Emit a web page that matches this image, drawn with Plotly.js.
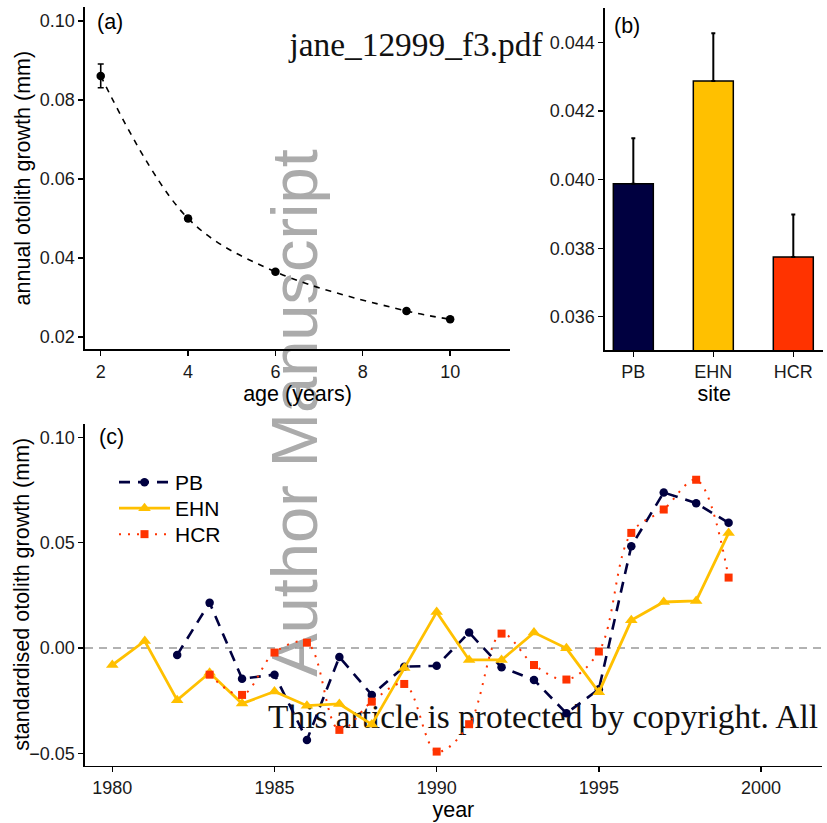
<!DOCTYPE html>
<html>
<head>
<meta charset="utf-8">
<script src="https://cdn.plot.ly/plotly-3.0.1.min.js"></script>
<style>
  body { margin: 0; background: #ffffff; }
  #wrap { position: relative; width: 827px; height: 823px; overflow: hidden; }
  .wm { position: absolute; white-space: nowrap; }
  .serif { font-family: "Liberation Serif", "DejaVu Serif", serif; font-size: 33.4px; line-height: 33px; color: #111; }
  #plot { position: absolute; left: 0; top: 0; width: 827px; height: 823px; }
</style>
</head>
<body>
<div id="wrap">
  <div class="wm serif" style="left:416px; top:28.4px; transform:translateX(-50%);">jane_12999_f3.pdf</div>
  <div class="wm" style="left:293.5px; top:413px; transform:translate(-50%,-50%) rotate(-90deg); font-family:'Liberation Sans', Arial, sans-serif; font-size:65px; line-height:65px; color:#ababab;">Author Manuscript</div>
  <div class="wm serif" style="left:543px; top:700.4px; transform:translateX(-50%);">This article is protected by copyright. All</div>
  <div id="plot"></div>
</div>
<script>
// ---- Panel (a): annual otolith growth by age ----
const ages = [2, 4, 6, 9, 10];
const annualGrowth = [0.0861, 0.0500, 0.0365, 0.0266, 0.0245];
const annualSE = [0.0030, 0.0006, 0.0005, 0.0005, 0.0005];
const ageTicks = [2, 4, 6, 8, 10];
const annualTicks = [0.02, 0.04, 0.06, 0.08, 0.10];

// ---- Panel (b): mean growth by site ----
const sites = ["PB", "EHN", "HCR"];
const siteMean = [0.03988, 0.04288, 0.03774];
const siteSE = [0.00133, 0.00139, 0.00124];
const siteTicks = [0.036, 0.038, 0.040, 0.042, 0.044];

// ---- Panel (c): standardised growth by year ----
const yearsPB = [1982,1983,1984,1985,1986,1987,1988,1989,1990,1991,1992,1993,1994,1995,1996,1997,1998,1999];
const growthPB = [-0.0033, 0.0215, -0.0146, -0.0127, -0.0437, -0.0043, -0.0223, -0.0089, -0.0085, 0.0073, -0.0092, -0.0152, -0.0310, -0.0196, 0.0483, 0.0738, 0.0687, 0.0594];
const yearsEHN = [1980,1981,1982,1983,1984,1985,1986,1987,1988,1989,1990,1991,1992,1993,1994,1995,1996,1997,1998,1999];
const growthEHN = [-0.0081, 0.0033, -0.0248, -0.0118, -0.0264, -0.0207, -0.0274, -0.0266, -0.0363, -0.0095, 0.0170, -0.0057, -0.0057, 0.0073, -0.0002, -0.0210, 0.0131, 0.0218, 0.0223, 0.0545];
const yearsHCR = [1983,1984,1985,1986,1987,1988,1989,1990,1991,1992,1993,1994,1995,1996,1997,1998,1999];
const growthHCR = [-0.0127, -0.0223, -0.0022, 0.0025, -0.0389, -0.0255, -0.0171, -0.0492, -0.0362, 0.0068, -0.0081, -0.0150, -0.0017, 0.0546, 0.0657, 0.0798, 0.0334];
const yearTicks = [1980, 1985, 1990, 1995, 2000];
const stdTicks = [-0.05, 0.00, 0.05, 0.10];

const siteColors = ["#000040", "#FFC000", "#FF3300"];

const W = 827, H = 823;
const px = v => v / W;
const py = v => 1 - v / H;

const fontFam = "Liberation Sans, Arial, sans-serif";
const tickFont = { family: fontFam, size: 18, color: "#1a1a1a" };
const titleFont = { family: fontFam, size: 21.5, color: "#000" };

function axisBase(extra) {
  return Object.assign({
    showline: true, linecolor: "#000", linewidth: 1.6,
    ticks: "outside", ticklen: 5, tickwidth: 1.4, tickcolor: "#000",
    showgrid: false, zeroline: false, tickfont: tickFont,
    fixedrange: true
  }, extra);
}

function legendAt(topPx) {
  return {
    x: px(114), y: py(topPx), xanchor: "left", yanchor: "top",
    bgcolor: "rgba(0,0,0,0)", borderwidth: 0,
    font: { family: fontFam, size: 21, color: "#000" },
    itemwidth: 51, tracegroupgap: 0
  };
}

const traces = [
  // (a) points with error bars + dashed curve
  {
    x: ages, y: annualGrowth, xaxis: "x", yaxis: "y",
    type: "scatter", mode: "lines+markers", showlegend: false,
    line: { color: "#000", width: 1.6, dash: "6px,6px", shape: "spline" },
    marker: { color: "#000", size: 8.5 },
    error_y: { type: "data", array: annualSE, color: "#000", thickness: 1.6, width: 3 }
  },
  // (b) bars
  {
    x: sites, y: siteMean, xaxis: "x2", yaxis: "y2",
    type: "bar", width: 0.5, showlegend: false,
    marker: { color: siteColors, line: { color: "#000", width: 1.5 } },
    error_y: { type: "data", symmetric: false, array: siteSE, arrayminus: [0, 0, 0], color: "#000", thickness: 2, width: 2 }
  },
  // (c) series
  {
    name: "PB", x: yearsPB, y: growthPB, xaxis: "x3", yaxis: "y3", legend: "legend",
    type: "scatter", mode: "lines+markers",
    line: { color: siteColors[0], width: 2.6, dash: "11px,8px" },
    marker: { color: siteColors[0], size: 8.5, symbol: "circle" }
  },
  {
    name: "EHN", x: yearsEHN, y: growthEHN, xaxis: "x3", yaxis: "y3", legend: "legend2",
    type: "scatter", mode: "lines+markers",
    line: { color: siteColors[1], width: 2.8 },
    marker: { color: siteColors[1], size: 11, symbol: "triangle-up" }
  },
  {
    name: "HCR", x: yearsHCR, y: growthHCR, xaxis: "x3", yaxis: "y3", legend: "legend3",
    type: "scatter", mode: "lines+markers",
    line: { color: siteColors[2], width: 2, dash: "2px,7px", shape: "spline" },
    marker: { color: siteColors[2], size: 8, symbol: "square" }
  }
];

const layout = {
  width: W, height: H,
  margin: { l: 0, r: 0, t: 0, b: 0 },
  paper_bgcolor: "rgba(0,0,0,0)", plot_bgcolor: "rgba(0,0,0,0)",
  font: { family: fontFam, color: "#000" },
  xaxis: axisBase({
    domain: [px(85), px(510)], anchor: "y", range: [1.64, 11.37],
    tickvals: ageTicks, ticktext: ageTicks.map(String),
    title: { text: "age (years)", font: titleFont, standoff: 2 }
  }),
  yaxis: axisBase({
    domain: [py(349.3), py(7)], anchor: "x", range: [0.01689, 0.10354],
    tickvals: annualTicks, tickformat: ".2f",
    title: { text: "annual otolith growth (mm)", font: titleFont, standoff: 3 }
  }),
  xaxis2: axisBase({
    domain: [px(605), px(823.3)], anchor: "y2", type: "category",
    range: [-0.354, 2.375],
    title: { text: "site", font: titleFont, standoff: 0 }
  }),
  yaxis2: axisBase({
    domain: [py(350), py(8.3)], anchor: "x2", range: [0.03503, 0.0450],
    tickvals: siteTicks, tickformat: ".3f"
  }),
  xaxis3: axisBase({
    domain: [px(85), px(821.7)], anchor: "y3", range: [1979.158, 2001.87],
    tickvals: yearTicks, ticktext: yearTicks.map(String),
    title: { text: "year", font: titleFont, standoff: 3 }
  }),
  yaxis3: axisBase({
    domain: [py(765.7), py(424)], anchor: "x3", range: [-0.0559, 0.1063],
    tickvals: stdTicks, tickformat: ".2f"
  }),
  shapes: [
    { type: "line", xref: "x3 domain", yref: "y3", x0: 0, x1: 1, y0: 0, y1: 0,
      line: { color: "#999999", width: 1.6, dash: "8px,6px" }, layer: "below" }
  ],
  annotations: [
    { text: "(a)", xref: "paper", yref: "paper", x: px(95), y: py(22), xanchor: "left", yanchor: "middle", showarrow: false, font: { family: fontFam, size: 21.5, color: "#000" } },
    { text: "(b)", xref: "paper", yref: "paper", x: px(612), y: py(26), xanchor: "left", yanchor: "middle", showarrow: false, font: { family: fontFam, size: 21.5, color: "#000" } },
    { text: "(c)", xref: "paper", yref: "paper", x: px(97), y: py(437), xanchor: "left", yanchor: "middle", showarrow: false, font: { family: fontFam, size: 21.5, color: "#000" } },
    { text: "standardised otolith growth (mm)", xref: "paper", yref: "y3 domain", x: px(22), y: 0.5,
      xanchor: "center", yanchor: "middle", textangle: -90, showarrow: false, font: titleFont }
  ],
  legend: legendAt(462),
  legend2: legendAt(488),
  legend3: legendAt(514),
  showlegend: true
};

Plotly.newPlot("plot", traces, layout, { displayModeBar: false, staticPlot: true });
</script>
</body>
</html>
